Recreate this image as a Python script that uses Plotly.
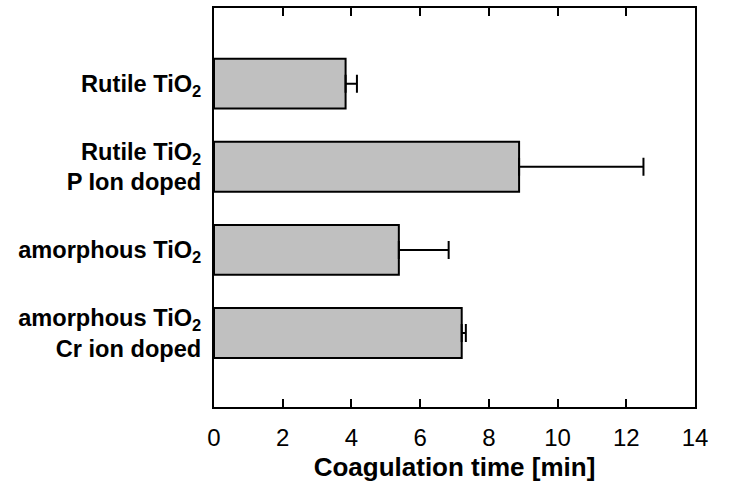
import plotly.graph_objects as go

categories = [
    "Rutile TiO<sub>2</sub>",
    "Rutile TiO<sub>2</sub><br>P Ion doped",
    "amorphous TiO<sub>2</sub>",
    "amorphous TiO<sub>2</sub><br>Cr ion doped",
]
coag_time = [3.83, 8.88, 5.38, 7.21]
coag_err = [0.33, 3.62, 1.45, 0.12]
x_ticks = [0, 2, 4, 6, 8, 10, 12, 14]

fig = go.Figure()
fig.add_trace(go.Bar(
    x=coag_time,
    y=categories,
    orientation="h",
    width=0.6,
    marker=dict(color="#c0c0c0", line=dict(color="black", width=2)),
    error_x=dict(type="data", array=coag_err, arrayminus=[0] * len(coag_err),
                 symmetric=False, color="black", thickness=2, width=9),
    showlegend=False,
))

fig.update_layout(
    width=744, height=494,
    margin=dict(l=214, r=49, t=6, b=87),
    paper_bgcolor="white", plot_bgcolor="white",
    font=dict(family="Liberation Sans, Arial, sans-serif", color="black"),
    bargap=0.4,
)
fig.update_xaxes(
    range=[0, 14], tickvals=x_ticks, ticktext=[str(v) for v in x_ticks],
    ticks="inside", ticklen=8, tickwidth=2, tickcolor="black",
    showline=True, linecolor="black", linewidth=2, mirror="ticks",
    showgrid=False, zeroline=False,
    tickfont=dict(size=24),
    ticklabelstandoff=8,
    title=dict(text="Coagulation time [min]", font=dict(size=26, weight="bold"), standoff=8),
)
fig.update_yaxes(
    type="category", categoryorder="array", categoryarray=categories,
    range=[3.89, -0.91],
    ticks="", showline=True, linecolor="black", linewidth=2, mirror=True,
    showgrid=False, zeroline=False,
    tickfont=dict(size=23.6, weight="bold"),
    ticklabelstandoff=6,
)

fig.write_html("out.html", config={"displayModeBar": False},
               post_script="document.body.style.margin='0';")
